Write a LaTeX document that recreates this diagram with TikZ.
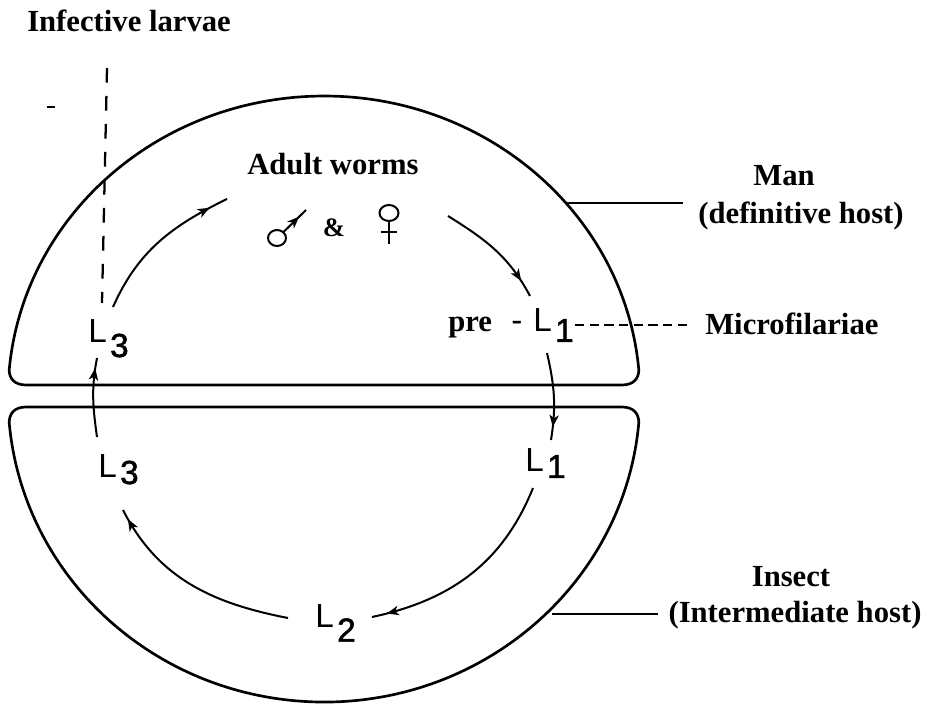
\documentclass[tikz,border=0pt]{standalone}
\usepackage{fontspec}
\setmainfont{Liberation Serif}
\newfontfamily\lsansfont{Liberation Sans}
\usetikzlibrary{arrows.meta,decorations.markings}
\newcommand{\Lab}[2]{{\lsansfont L\hspace{2.5pt}\raisebox{-#1}{\addfontfeatures{FakeBold=1.5}#2}}}
\begin{document}
\begin{tikzpicture}[x=0.75pt,y=0.75pt,
  host/.style={line width=2pt, line join=round},
  cyc/.style={line width=1.5pt},
  mid/.style={postaction={decorate},decoration={markings,mark=at position #1 with {\arrow{Stealth[length=9pt,width=7pt,inset=2.5pt]}}}},
  lbl/.style={font=\bfseries\fontsize{23}{27}\selectfont, inner sep=0pt},
  llbl/.style={font=\fontsize{25}{29}\selectfont\lsansfont, inner sep=0pt, anchor=base west},
  lead/.style={line width=1.2pt},
  dashv/.style={line width=1.7pt, dash pattern=on 11pt off 10pt},
  dashh/.style={line width=1.7pt, dash pattern=on 7pt off 4pt},
  sym/.style={line width=1.5pt},
]
\useasboundingbox (0,0) rectangle (937,706);

% host outlines
\draw[host] (26,321) -- (622,321) .. controls (634,321) and (638.8,328) .. (638.8,336.1)
  arc[start angle=5, end angle=175, x radius=316, y radius=300]
  .. controls (9.2,328) and (14,321) .. (26,321) -- cycle;
\draw[host] (26,299) -- (622,299) .. controls (634,299) and (638.8,292) .. (638.8,283.3)
  arc[start angle=-5, end angle=-175, x radius=316, y radius=306]
  .. controls (9.2,292) and (14,299) .. (26,299) -- cycle;

% text labels
\node[lbl, anchor=base west] (inf) at (27,674) {Infective larvae};
\node[lbl, anchor=base west] (adult) at (247,531) {Adult worms};
\node[lbl, anchor=base] (man) at (784,520) {Man};
\node[lbl, anchor=base] (def) at (801,482) {(definitive host)};
\node[lbl, anchor=base west] (micro) at (705,371) {Microfilariae};
\node[lbl, anchor=base west] (pre) at (448,374) {pre};
\node[lbl, anchor=base] (insect) at (791,119) {Insect};
\node[lbl, anchor=base] (inter) at (795,84) {(Intermediate host)};

% larval stage labels
\node[llbl] (L3u) at (88,363) {\Lab{10.5pt}{3}};
\node[llbl] (hy) at (511,374) {-};
\node[llbl] (L1u) at (533,374) {\Lab{7.5pt}{1}};
\node[llbl] (L3l) at (98,228) {\Lab{4.5pt}{3}};
\node[llbl] (L1l) at (525,234) {\Lab{4.5pt}{1}};
\node[llbl] (L2) at (315,79) {\Lab{11pt}{2}};

% sex symbols
\node[font=\bfseries\fontsize{20}{24}\selectfont, inner sep=0pt] (amp) at (334,478) {\&};
\coordinate (marsC) at (277,468);
\coordinate (marsB) at (283.5,474);
\coordinate (marsT) at (306,496);
\draw[sym] (marsC) circle[x radius=9, y radius=8];
\draw[sym, mid=0.7] (marsB) -- (marsT);
\coordinate (venC) at (389,493);
\coordinate (venS) at (389,485);
\coordinate (venE) at (389,462);
\coordinate (venL) at (381,474);
\coordinate (venR) at (397,474);
\draw[sym] (venC) circle[x radius=9.5, y radius=8];
\draw[sym] (venS) -- (venE);
\draw[sym] (venL) -- (venR);

% cycle connectors
\coordinate (a1s) at (113,399); \coordinate (a1e) at (227,507);
\coordinate (a2s) at (448,490); \coordinate (a2e) at (530,410);
\coordinate (v1s) at (547,353); \coordinate (v1e) at (551,266);
\coordinate (a3s) at (533,218); \coordinate (a3e) at (372,89);
\coordinate (a4s) at (288,88);  \coordinate (a4e) at (123,196);
\coordinate (v2s) at (97,269);  \coordinate (v2e) at (97,348);
\draw[cyc, mid=0.88] (a1s) to[out=66, in=206] (a1e);
\draw[cyc, mid=0.85] (a2s) to[out=-32, in=118] (a2e);
\draw[cyc, mid=0.85] (v1s) to[out=-77, in=81] (v1e);
\draw[cyc, mid=0.93] (a3s) to[out=-112, in=12] (a3e);
\draw[cyc, mid=0.95] (a4s) to[out=169, in=-63] (a4e);
\draw[cyc, mid=0.87] (v2s) to[out=98, in=-101] (v2e);

% infective larvae exit
\coordinate (infT) at (107,638);
\coordinate (infB) at (102,403);
\draw[dashv] (infT) -- (infB);

% microfilariae
\coordinate (mfs) at (575,381);
\coordinate (mfe) at (692,381);
\draw[dashh] (mfs) -- (mfe);

% leaders
\coordinate (manE) at (566,503); \coordinate (manW) at (683,503);
\draw[lead] (manE) -- (manW);
\coordinate (insE) at (552,92); \coordinate (insW) at (658,92);
\draw[lead] (insE) -- (insW);

% stray mark
\coordinate (sm1) at (47,599); \coordinate (sm2) at (55,599);
\draw[line width=1pt] (sm1) -- (sm2);
\end{tikzpicture}
\end{document}
